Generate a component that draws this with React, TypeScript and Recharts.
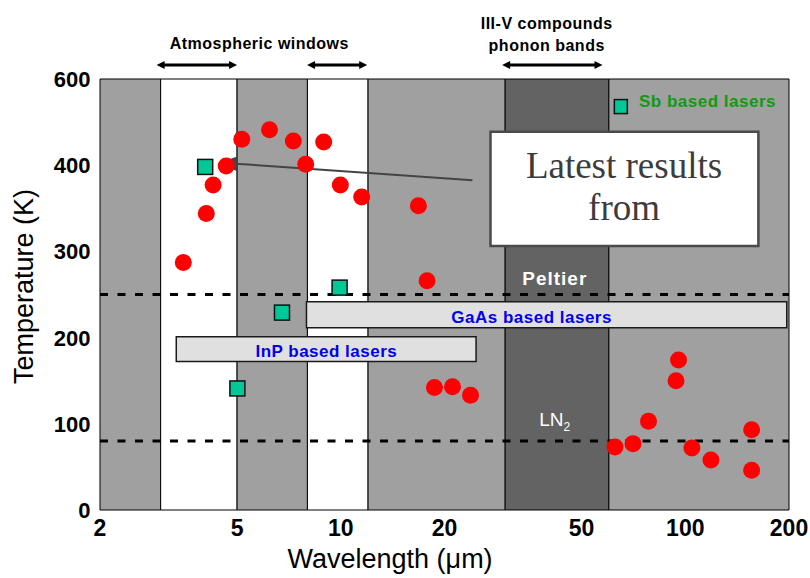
import React from "react";
import {
  ScatterChart,
  Scatter,
  XAxis,
  YAxis,
  ReferenceArea,
  ReferenceLine,
  ReferenceDot,
} from "recharts";

// red circles: wavelength (um) / max operating temperature (K)
const redWavelength = [3.49, 4.07, 4.26, 4.65, 5.16, 6.21, 7.28, 7.91, 8.92, 9.97, 11.5, 16.8, 17.8, 18.7, 21.1, 23.8, 62.5, 70.5, 78.2, 94.0, 95.6, 104.5, 118.7, 155.8, 155.8];
const redTemp = [287, 344, 377, 399, 430, 441, 428, 401, 427, 377, 363, 353, 266, 142, 143, 133, 73, 77, 103, 150, 174, 72, 58, 93, 46];

// teal squares
const tealWavelength = [4.04, 9.92, 6.75, 5.01];
const tealTemp = [398, 258, 229, 141];

// axis ticks
const xTicks = [2, 3, 4, 5, 6, 7, 8, 9, 10, 20, 30, 40, 50, 60, 70, 80, 90, 100, 200];
const xLabels = [2, 5, 10, 20, 50, 100, 200];
const xMarks = [3, 4, 5, 6, 7, 8, 9, 10, 20, 30, 40, 50, 60, 70, 80, 90, 100];
const yTicks = [0, 50, 100, 150, 200, 250, 300, 350, 400, 450, 500];
const yMarks = [50, 100, 150, 200, 250, 300, 350, 400, 450];
const yLabelValues = [0, 100, 200, 300, 400, 500];
const yLabelText = ["0", "100", "200", "300", "400", "600"];

// background bands (wavelength edges)
const bandEdges = [2, 3, 5, 8, 12, 30, 60, 200];
const bandFills = ["#a0a0a0", "#ffffff", "#a0a0a0", "#ffffff", "#a0a0a0", "#636363", "#a0a0a0"];

// cooling reference temperatures
const peltierTemp = 250;
const ln2Temp = 80;

const redData = redWavelength.map((w, i) => ({ w, t: redTemp[i] }));
const tealData = tealWavelength.map((w, i) => ({ w, t: tealTemp[i] }));

const SANS = "'Liberation Sans', Arial, Helvetica, sans-serif";
const MARGIN = { top: 79, right: 21, bottom: 67, left: 99 };

const BottomTick = ({ x, y, payload }: any) => {
  const v = payload.value;
  if (!xLabels.includes(v)) return <g />;
  return (
    <text x={x} y={y + 26} textAnchor="middle" fontSize={23} fontWeight="bold" fontFamily={SANS} fill="#000">
      {v}
    </text>
  );
};

const LeftTick = ({ x, y, payload }: any) => {
  const idx = yLabelValues.indexOf(payload.value);
  if (idx < 0) return <g />;
  return (
    <text x={x - 9.5} y={y + 8} textAnchor="end" fontSize={22} fontWeight="bold" fontFamily={SANS} fill="#000">
      {yLabelText[idx]}
    </text>
  );
};

// inward tick marks: a segment spanning the plot, drawn only near its two ends
const xMarkShape = (v: number) => (p: any) => {
  const top = Math.min(p.y1, p.y2) - 0.9;
  const bottom = Math.max(p.y1, p.y2) + 0.9;
  const major = xLabels.includes(v);
  return (
    <g>
      <line x1={p.x1} x2={p.x1} y1={bottom} y2={bottom - (major ? 15 : 9)} stroke="#000" strokeWidth={2.5} />
      {v !== 100 && <line x1={p.x1} x2={p.x1} y1={top} y2={top + (major ? 13 : 8)} stroke="#000" strokeWidth={2.5} />}
    </g>
  );
};
const yMarkShape = (v: number) => (p: any) => {
  const left = Math.min(p.x1, p.x2) - 0.5;
  const right = Math.max(p.x1, p.x2) + 0.5;
  const major = yLabelValues.includes(v);
  return (
    <g>
      <line x1={left} x2={left + (major ? 10 : 6.5)} y1={p.y1} y2={p.y1} stroke="#000" strokeWidth={2.5} />
      <line x1={right} x2={right - (major ? 11 : 7)} y1={p.y1} y2={p.y1} stroke="#000" strokeWidth={2.5} />
    </g>
  );
};
// frame: drawn from a diagonal segment just inside the corners
const frameShape = (p: any) => {
  const left = Math.min(p.x1, p.x2) - 0.5;
  const right = Math.max(p.x1, p.x2) + 0.5;
  const top = Math.min(p.y1, p.y2) - 0.45;
  const bottom = Math.max(p.y1, p.y2) + 0.45;
  return (
    <rect x={left} y={top} width={right - left} height={bottom - top} fill="none" stroke="#000" strokeWidth={4} />
  );
};

const redDot = (p: any) => <circle cx={p.cx} cy={p.cy} r={8.5} fill="#ff0000" />;
const tealSquare = (p: any) => (
  <rect x={p.cx - 7.5} y={p.cy - 7.5} width={15} height={15} fill="#00c896" stroke="#111" strokeWidth={1.5} />
);
const sbSquare = (p: any) => (
  <rect x={p.cx - 6.5} y={p.cy - 7} width={13} height={14} fill="#00c896" stroke="#111" strokeWidth={1.5} />
);

const textShape = (text: React.ReactNode, style: any) => (p: any) => (
  <text x={p.cx} y={p.cy} {...style}>
    {text}
  </text>
);

const head = (x: number, y: number, ang: number, len: number, half: number, color: string) => {
  const bx = x - len * Math.cos(ang);
  const by = y - len * Math.sin(ang);
  const nx = -Math.sin(ang) * half;
  const ny = Math.cos(ang) * half;
  return <polygon points={`${x},${y} ${bx + nx},${by + ny} ${bx - nx},${by - ny}`} fill={color} />;
};

const arrowShape = (len: number, half: number, both: boolean, color: string, width: number) => (p: any) => {
  const { x1, y1, x2, y2 } = p;
  const ang = Math.atan2(y2 - y1, x2 - x1);
  const sx = both ? x1 + (len - 2) * Math.cos(ang) : x1;
  const sy = both ? y1 + (len - 2) * Math.sin(ang) : y1;
  const ex = x2 - (len - 2) * Math.cos(ang);
  const ey = y2 - (len - 2) * Math.sin(ang);
  return (
    <g>
      <line x1={sx} y1={sy} x2={ex} y2={ey} stroke={color} strokeWidth={width} />
      {head(x2, y2, ang, len, half, color)}
      {both && head(x1, y1, ang + Math.PI, len, half, color)}
    </g>
  );
};

const boldSmall = { fontFamily: SANS, fontWeight: "bold", fontSize: 17, letterSpacing: 0.5 };
const titleStyle = { fontFamily: SANS, fontWeight: "bold", fontSize: 16, letterSpacing: 0.5, fill: "#000", textAnchor: "middle" };
const serifStyle = { fontFamily: "'Liberation Serif', 'Times New Roman', serif", fontSize: 37, fill: "#3c3c3c", textAnchor: "middle" };

// frame and tick layer: a second chart with the same axes, laid over the first
const FrameOverlay = () => (
  <div style={{ position: "absolute", left: 0, top: 0, width: 810, height: 578, pointerEvents: "none" }}>
    <ScatterChart width={810} height={578} margin={MARGIN}>
      <XAxis dataKey="w" type="number" scale="log" domain={[2, 200]} ticks={xTicks} height={1} tick={false} tickLine={false} axisLine={false} />
      <YAxis dataKey="t" type="number" domain={[0, 500]} ticks={yTicks} width={1} tick={false} tickLine={false} axisLine={false} />
      {xMarks.map((v) => (
        <ReferenceLine key={`xm-${v}`} segment={[{ x: v, y: 1 }, { x: v, y: 499 }]} shape={xMarkShape(v)} />
      ))}
      {yMarks.map((v) => (
        <ReferenceLine key={`ym-${v}`} segment={[{ x: 2.0067, y: v }, { x: 199.33, y: v }]} shape={yMarkShape(v)} />
      ))}
      <ReferenceLine segment={[{ x: 2.0067, y: 0.5 }, { x: 199.33, y: 499.5 }]} shape={frameShape} />
    </ScatterChart>
  </div>
);

export default function App() {
  return (
    <div style={{ position: "absolute", left: 0, top: 0, width: 810, height: 578, background: "#fff" }}>
      <ScatterChart width={810} height={578} margin={MARGIN}>
        <XAxis
          dataKey="w"
          type="number"
          scale="log"
          domain={[2, 200]}
          allowDataOverflow
          ticks={xTicks}
          interval={0}
          height={1}
          tickSize={0}
          tickMargin={0}
          tickLine={false}
          tick={<BottomTick />}
          axisLine={false}
        />
        <YAxis
          dataKey="t"
          type="number"
          domain={[0, 500]}
          allowDataOverflow
          ticks={yTicks}
          interval={0}
          width={1}
          tickSize={0}
          tickMargin={0}
          tickLine={false}
          tick={<LeftTick />}
          axisLine={false}
        />

        {bandFills.map((fill, i) => (
          <ReferenceArea
            key={`band-${i}`}
            x1={bandEdges[i]}
            x2={bandEdges[i + 1]}
            y1={0}
            y2={500}
            fill={fill}
            fillOpacity={1}
            stroke="#000"
            strokeWidth={1}
          />
        ))}

        {/* laser family bars */}
        <ReferenceArea x1={7.95} x2={197} y1={211.3} y2={241.5} fill="#e0e0e0" fillOpacity={1} stroke="#1a1a1a" strokeWidth={1.5} />
        <ReferenceArea x1={3.33} x2={24.7} y1={172.4} y2={201} fill="#e0e0e0" fillOpacity={1} stroke="#1a1a1a" strokeWidth={1.5} />

        {/* callout box */}
        <ReferenceArea x1={27.2} x2={163} y1={306.2} y2={438.7} fill="#ffffff" fillOpacity={1} stroke="#4a4a4a" strokeWidth={2.5} />

        <ReferenceLine y={peltierTemp} stroke="#000" strokeWidth={3} strokeDasharray="8 9.5" />
        <ReferenceLine y={ln2Temp} stroke="#000" strokeWidth={3} strokeDasharray="8 9.5" />

        <ReferenceLine
          segment={[{ x: 24.1, y: 382.6 }, { x: 4.47, y: 403 }]}
          shape={arrowShape(17, 7.5, false, "#444", 2)}
        />

        {/* top annotations */}
        <ReferenceLine ifOverflow="visible" segment={[{ x: 2.92, y: 516.3 }, { x: 5, y: 516.3 }]} shape={arrowShape(8, 4, true, "#000", 3)} />
        <ReferenceLine ifOverflow="visible" segment={[{ x: 7.98, y: 516.3 }, { x: 11.93, y: 516.3 }]} shape={arrowShape(8, 4, true, "#000", 3)} />
        <ReferenceLine ifOverflow="visible" segment={[{ x: 29.4, y: 516.3 }, { x: 57.5, y: 516.3 }]} shape={arrowShape(8, 4, true, "#000", 3)} />

        <ReferenceDot x={66.4} y={385.7} r={1} shape={textShape("Latest results", serifStyle)} />
        <ReferenceDot x={66.4} y={337} r={1} shape={textShape("from", serifStyle)} />

        <ReferenceDot ifOverflow="visible" x={5.8} y={535} r={1} shape={textShape("Atmospheric windows", titleStyle)} />
        <ReferenceDot ifOverflow="visible" x={39.6} y={558} r={1} shape={textShape("III-V compounds", titleStyle)} />
        <ReferenceDot ifOverflow="visible" x={39.6} y={532} r={1} shape={textShape("phonon bands", titleStyle)} />

        {/* in-plot labels */}
        <ReferenceDot x={41.8} y={261.6} r={1} shape={textShape("Peltier", { ...boldSmall, fontSize: 19, letterSpacing: 1, fill: "#fff", textAnchor: "middle" })} />
        <ReferenceDot
          x={41.8}
          y={98}
          r={1}
          shape={textShape(
            <>
              LN<tspan fontSize={12} dy={5}>2</tspan>
            </>,
            { fontFamily: SANS, fontSize: 19, fill: "#fff", textAnchor: "middle" }
          )}
        />
        <ReferenceDot x={35.8} y={216.6} r={1} shape={textShape("GaAs based lasers", { ...boldSmall, fill: "#0000ee", textAnchor: "middle" })} />
        <ReferenceDot x={9.08} y={177.9} r={1} shape={textShape("InP based lasers", { ...boldSmall, fill: "#0000ee", textAnchor: "middle" })} />
        <ReferenceDot x={65} y={468} r={1} shape={sbSquare} />
        <ReferenceDot x={73.4} y={467.8} r={1} shape={textShape("Sb based lasers", { ...boldSmall, fill: "#109a10", textAnchor: "start" })} />

        {/* axis titles */}
        <ReferenceDot
          ifOverflow="visible"
          x={13.9}
          y={-67.4}
          r={1}
          shape={textShape("Wavelength (μm)", { fontFamily: SANS, fontSize: 27, fill: "#000", textAnchor: "middle" })}
        />
        <ReferenceDot
          ifOverflow="visible"
          x={1.277}
          y={259.3}
          r={1}
          shape={(p: any) => (
            <text
              x={p.cx}
              y={p.cy}
              transform={`rotate(-90 ${p.cx} ${p.cy})`}
              fontFamily={SANS}
              fontSize={27}
              fill="#000"
              textAnchor="middle"
            >
              Temperature (K)
            </text>
          )}
        />

        <Scatter data={redData} dataKey="t" shape={redDot} isAnimationActive={false} />
        <Scatter data={tealData} dataKey="t" shape={tealSquare} isAnimationActive={false} />
      </ScatterChart>
      <FrameOverlay />
    </div>
  );
}
